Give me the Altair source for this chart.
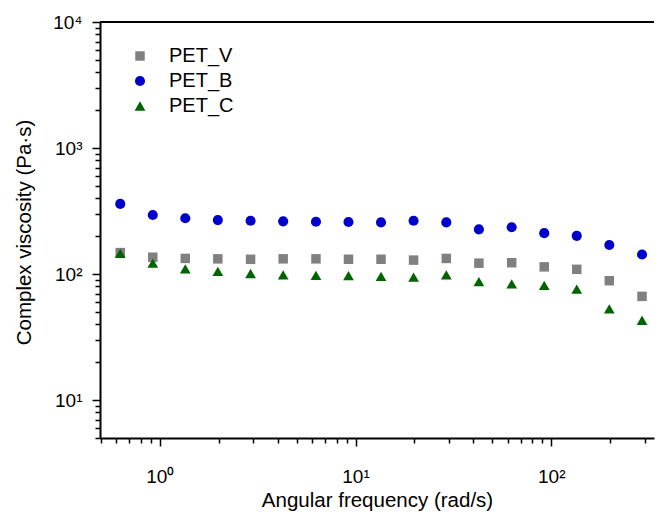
import altair as alt
import pandas as pd

# Angular frequency (rad/s)
freq = [0.628, 0.921, 1.35, 1.98, 2.91, 4.27, 6.28, 9.21, 13.5, 19.8, 29.1, 42.7, 62.8, 92.1, 135, 198, 291]
# Complex viscosity (Pa·s)
pet_v = [148, 136, 133, 132, 131, 132, 132, 131, 131, 129, 133, 122, 123, 114, 109, 88.5, 66.5]
pet_b = [360, 294, 277, 268, 265, 262, 260, 259, 257, 265, 257, 226, 235, 211, 201, 170, 143]
pet_c = [146, 122, 110, 105, 101, 98.6, 97.7, 97, 96, 94.6, 98.6, 87, 83.4, 81.3, 76, 53, 43]

series = ["PET_V", "PET_B", "PET_C"]
colors = ["#808080", "#0000CC", "#006400"]
shapes = ["square", "circle", "triangle-up"]
sizes = [90, 115, 150]

x_ticks = [0.5, 0.6, 0.7, 0.8, 0.9, 1, 2, 3, 4, 5, 6, 7, 8, 9,
           10, 20, 30, 40, 50, 60, 70, 80, 90, 100, 200, 300]
y_ticks = [5, 6, 7, 8, 9, 10, 20, 30, 40, 50, 60, 70, 80, 90,
           100, 200, 300, 400, 500, 600, 700, 800, 900,
           1000, 2000, 3000, 4000, 5000, 6000, 7000, 8000, 9000, 10000]

rows = []
for name, vals in zip(series, [pet_v, pet_b, pet_c]):
    for f, v in zip(freq, vals):
        rows.append({"series": name, "freq": f, "visc": v})
df = pd.DataFrame(rows)

W, H = 554, 416
FONT = "Liberation Sans"

is_major = "abs(log(datum.value)/LN10 - round(log(datum.value)/LN10)) < 1e-6"
label_expr = (is_major + " ? '10' + ['\u2070','\u00b9','\u00b2','\u00b3','\u2074'][round(log(datum.value)/LN10)] : ''")
tick_size = {"condition": {"test": is_major, "value": 8}, "value": 5}

x_axis = alt.Axis(
    values=x_ticks, labelExpr=label_expr, tickSize=tick_size,
    labelOverlap=False, labelFlush=False, labelBound=False,
    labelBaseline="alphabetic", labelPadding=36, labelFontSize=19,
    title="Angular frequency (rad/s)", titleX=277, titleY=68,
    titleBaseline="alphabetic", titleAlign="center", titleAnchor="middle",
    titleFontSize=20.5, grid=False, orient="bottom",
)
y_axis = alt.Axis(
    values=y_ticks, labelExpr=label_expr, tickSize=tick_size,
    labelOverlap=False, labelFlush=False, labelBound=False,
    labelBaseline="middle", labelAlign="right", labelPadding=10, labelFontSize=19,
    title="Complex viscosity (Pa\u00b7s)", titleX=-76, titleY=210,
    titleAngle=270, titleBaseline="middle", titleAlign="center", titleAnchor="middle",
    titleFontSize=20.5, grid=False, orient="left",
)

legend = alt.Legend(
    title=None, orient="none", legendX=30, legendY=24,
    labelFontSize=20, labelFont=FONT, symbolSize=75, labelOffset=19,
    rowPadding=5, padding=0, symbolStrokeWidth=0,
)

points = alt.Chart(df).mark_point(filled=True, opacity=1).encode(
    x=alt.X("freq:Q", scale=alt.Scale(type="log", domain=[0.495, 335], nice=False), axis=x_axis),
    y=alt.Y("visc:Q", scale=alt.Scale(type="log", domain=[5, 10000], nice=False), axis=y_axis),
    color=alt.Color("series:N", scale=alt.Scale(domain=series, range=colors), legend=legend),
    shape=alt.Shape("series:N", scale=alt.Scale(domain=series, range=shapes), legend=legend),
    size=alt.Size("series:N", scale=alt.Scale(domain=series, range=sizes), legend=None),
    order=alt.Order("idx:Q"),
).transform_calculate(idx="indexof(['PET_V','PET_B','PET_C'], datum.series)")

top_line = alt.Chart(pd.DataFrame({"a": [0]})).mark_rule(color="black", strokeWidth=2).encode(
    x=alt.value(0), x2=alt.value(W), y=alt.value(0)
)

chart = alt.layer(points, top_line).properties(
    width=W, height=H,
    padding={"left": 92, "top": 14, "right": 1, "bottom": 75},
    autosize="none",
).configure_view(stroke=None).configure_axis(
    domainColor="black", domainWidth=2, tickColor="black", tickWidth=1.5,
    labelColor="black", titleColor="black", labelFont=FONT, titleFont=FONT,
    titleFontWeight="normal",
)

chart.save("out.html", embed_options={"renderer": "svg", "actions": False})
